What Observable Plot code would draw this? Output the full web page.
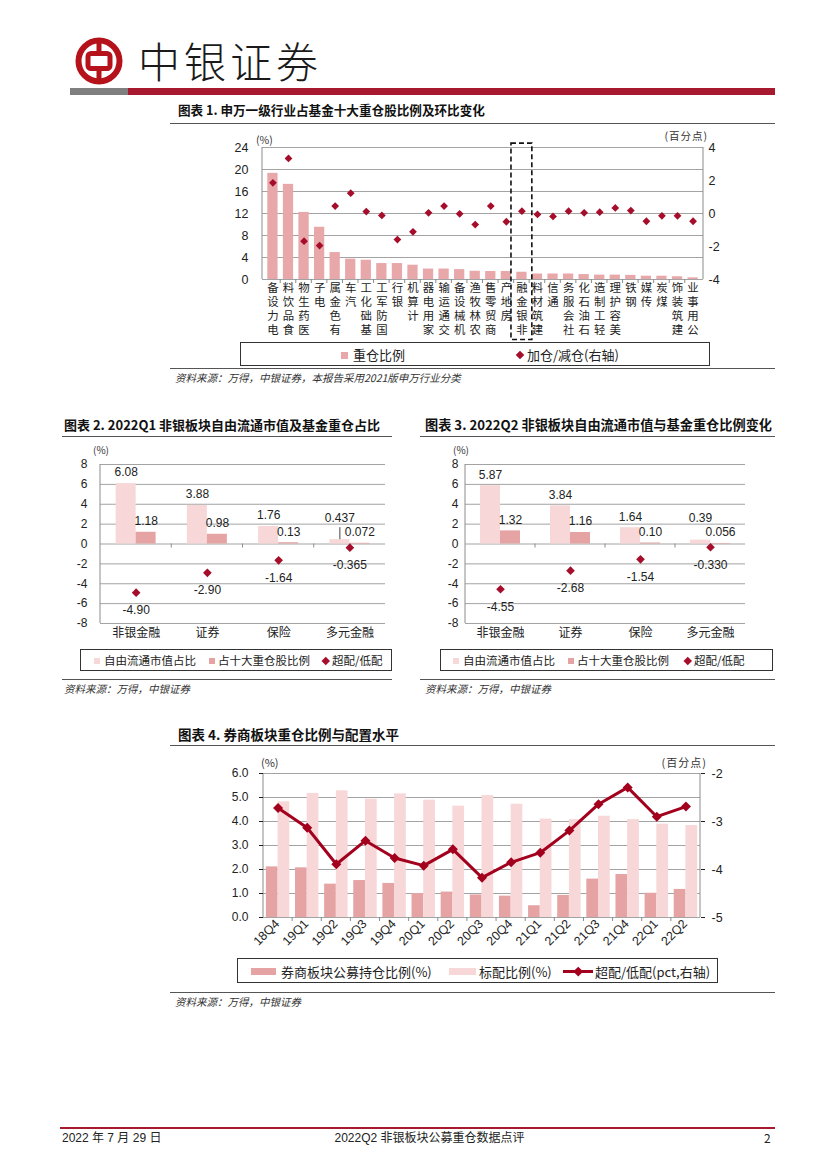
<!DOCTYPE html>
<html lang="zh"><head><meta charset="utf-8">
<script src="https://cdn.jsdelivr.net/npm/d3@7"></script>
<script src="https://cdn.jsdelivr.net/npm/@observablehq/plot@0.6"></script>
<style>
html,body{margin:0;padding:0;background:#fff;}
#page{position:relative;width:827px;height:1169px;overflow:hidden;background:#fff;font-family:"Noto Sans CJK SC","Noto Sans",sans-serif;color:#222;}
#page > *{position:absolute;}
.t{white-space:nowrap;line-height:1;}
.title{font-weight:700;font-size:13px;color:#111;}
.hr{height:0;border-top:1.6px solid #555;}
.src{font-style:italic;font-size:10.5px;color:#333;}
.unit{font-size:10.5px;color:#333;}
.legend{border:1px solid #333;box-sizing:border-box;background:#fff;}
.legend > *{position:absolute;white-space:nowrap;line-height:1;}
</style></head>
<body><div id="page"></div>
<script>
// ---------------- DATA ----------------
// Chart 1: 申万一级行业占基金十大重仓股比例 (%) 及环比变化 (百分点)
const industries = ["电力设备","食品饮料","医药生物","电子","有色金属","汽车","基础化工","国防军工","银行","计算机","家用电器","交通运输","机械设备","农林牧渔","商贸零售","房地产","非银金融","建筑材料","通信","社会服务","石油石化","轻工制造","美容护理","钢铁","传媒","煤炭","建筑装饰","公用事业"];
const industryWeight = [19.3,17.3,12.2,9.5,4.9,3.7,3.5,2.9,2.9,2.6,1.9,1.9,1.8,1.5,1.45,1.45,1.32,1.0,1.0,1.0,0.9,0.8,0.8,0.75,0.6,0.6,0.5,0.3];
const industryChange = [1.86,3.34,-1.68,-1.94,0.45,1.23,0.12,-0.12,-1.58,-1.11,0.04,0.45,-0.02,-0.67,0.45,-0.5,0.14,-0.06,-0.18,0.14,0.04,0.08,0.34,0.18,-0.47,-0.14,-0.14,-0.47];
const highlightIndustry = "非银金融";
const c1LeftTicks = [0,4,8,12,16,20,24];
const c1RightTicks = [-4,-2,0,2,4];

// Chart 2 / 3: 非银板块
const sectors = ["非银金融","证券","保险","多元金融"];
const q1FreeFloat = ["6.08","3.88","1.76","0.437"];
const q1FundWeight = ["1.18","0.98","0.13","0.072"];
const q1Over = ["-4.90","-2.90","-1.64","-0.365"];
const q2FreeFloat = ["5.87","3.84","1.64","0.39"];
const q2FundWeight = ["1.32","1.16","0.10","0.056"];
const q2Over = ["-4.55","-2.68","-1.54","-0.330"];
const sectorTicks = [-8,-6,-4,-2,0,2,4,6,8];

// Chart 4: 券商板块
const quarters = ["18Q4","19Q1","19Q2","19Q3","19Q4","20Q1","20Q2","20Q3","20Q4","21Q1","21Q2","21Q3","21Q4","22Q1","22Q2"];
const brokerHold = [2.11,2.07,1.39,1.54,1.42,1.00,1.06,0.94,0.89,0.49,0.92,1.60,1.79,1.01,1.17];
const brokerStandard = [4.82,5.17,5.28,4.93,5.15,4.89,4.64,5.08,4.72,4.10,4.08,4.22,4.08,3.89,3.83];
const brokerOver = [-2.72,-3.13,-3.89,-3.40,-3.76,-3.92,-3.58,-4.17,-3.85,-3.65,-3.19,-2.64,-2.29,-2.90,-2.69];
const c4LeftTicks = [0,1,2,3,4,5,6];
const c4RightTicks = [-5,-4,-3,-2];

// ---------------- STYLE ----------------
const C = {bar1:"#e8a8aa", dot:"#a50d2b", light:"#f7d7d7", med:"#e5a3a4", line:"#a3001e", grid:"#a3a3a3", axis:"#8c8c8c", red:"#a6192e"};
const NUM_FONT = "'Liberation Sans', Arial, 'Noto Sans CJK SC', sans-serif";
const CJK_FONT = "'Noto Sans CJK SC', sans-serif";
const page = document.getElementById("page");

function add(html, css, cls) {
  const d = document.createElement("div");
  if (cls) d.className = cls;
  d.innerHTML = html;
  Object.assign(d.style, css);
  page.appendChild(d);
  return d;
}
function hr(left, top, width, cls="hr", extra={}) { return add("", Object.assign({left:left+"px", top:top+"px", width:width+"px"}, extra), cls); }
function placeSvg(svg, left, top) { svg.style.position="absolute"; svg.style.left=left+"px"; svg.style.top=top+"px"; svg.style.overflow="visible"; page.appendChild(svg); }

function sideLines({left=true, right=false}={}) {
  return (index, scales, values, dims) => {
    const {width, height, marginTop, marginRight, marginBottom, marginLeft} = dims;
    const g = d3.create("svg:g").attr("stroke", C.axis).attr("stroke-width", 1).attr("fill", "none");
    if (left) g.append("line").attr("x1", marginLeft).attr("x2", marginLeft).attr("y1", marginTop).attr("y2", height - marginBottom);
    if (right) g.append("line").attr("x1", width - marginRight).attr("x2", width - marginRight).attr("y1", marginTop).attr("y2", height - marginBottom);
    return g.node();
  };
}
function boundaryTicks(yValue, len) {
  return (index, scales) => {
    const x = scales.x, y = scales.y;
    const step = x.step(), bw = x.bandwidth();
    const yy = y(yValue);
    const g = d3.create("svg:g").attr("stroke", C.axis).attr("stroke-width", 1);
    x.domain().slice(1).forEach(d => {
      const xx = x(d) - (step - bw) / 2;
      g.append("line").attr("x1", xx).attr("x2", xx).attr("y1", yy).attr("y2", yy + len);
    });
    return g.node();
  };
}
const baseStyle = {fontFamily: NUM_FONT, fontSize: "12px", color: "#222", background: "transparent", overflow: "visible"};

// ---------------- HEADER ----------------
add(`<svg width="48" height="48" viewBox="0 0 48 48">
  <circle cx="24" cy="24" r="20.5" fill="none" stroke="#b5121b" stroke-width="6"/>
  <rect x="13" y="16.5" width="22" height="15" rx="3" fill="none" stroke="#b5121b" stroke-width="5"/>
  <line x1="24" y1="3" x2="24" y2="16.5" stroke="#b5121b" stroke-width="5"/>
  <line x1="24" y1="31.5" x2="24" y2="45" stroke="#b5121b" stroke-width="5"/></svg>`, {left:"75px", top:"37px", width:"48px", height:"48px"});
add("中银证券", {left:"138px", top:"39px", fontSize:"42px", letterSpacing:"4px", fontWeight:"300", color:"#1a1a1a", lineHeight:"1"}, "t");
add("", {left:"70px", top:"88px", width:"58px", height:"7px", background:"#7f7f7f"});
add("", {left:"128px", top:"88px", width:"647px", height:"7px", background:C.red});

// ---------------- CHART 1 ----------------
add("图表 1. 申万一级行业占基金十大重仓股比例及环比变化", {left:"178px", top:"104px", fontSize:"12.6px"}, "t title");
hr(170, 123, 605);
add("(%)", {left:"256px", top:"135px"}, "t unit");
add("(百分点)", {right:(827-708)+"px", top:"131px", letterSpacing:"1px"}, "t unit");

const rows1 = industries.map((name, i) => ({name, weight: industryWeight[i], change: industryChange[i]}));
// vertical (stacked) category labels: one text per character, read bottom-to-top
const labelChars = industries.flatMap(name => [...name].reverse().map((ch, j) => ({name, ch, j})));
const r1 = d3.scaleLinear([-4, 4], [0, 24]);
const chart1 = Plot.plot({
  width: 560, height: 212, marginTop: 17, marginRight: 27, marginBottom: 63, marginLeft: 92,
  x: {type: "band", domain: industries, padding: 0.34, round: false, axis: null},
  y: {domain: [0, 24], axis: null},
  style: baseStyle,
  marks: [
    Plot.ruleY(c1LeftTicks, {stroke: C.grid, strokeWidth: 1}),
    sideLines({left: true, right: true}),
    boundaryTicks(0, 4),
    Plot.barY(rows1, {x: "name", y: "weight", fill: C.bar1}),
    Plot.dot(rows1, {x: "name", y: d => r1(d.change), symbol: "diamond2", r: 3.5, fill: C.dot}),
    Plot.barY([highlightIndustry], {x: d => d, y1: -11, y2: 24.7, fill: "none", stroke: "#111", strokeWidth: 1.6, strokeDasharray: "5,3", insetLeft: -5.3, insetRight: -5.3}),
    Plot.axisY(c1LeftTicks, {anchor: "left", label: null, tickSize: 0, tickPadding: 14, tickFormat: d => String(d), fontSize: 12.5}),
    Plot.axisY(c1RightTicks.map(r1), {anchor: "right", label: null, tickSize: 0, tickPadding: 5, tickFormat: d => String(Math.round(r1.invert(d))), fontSize: 12.5}),
    ...[0, 1, 2, 3].map(j => Plot.text(labelChars.filter(c => c.j === j), {x: "name", text: "ch", frameAnchor: "bottom", lineAnchor: "top", dy: 4.5 + j * 13.8, fontSize: 11.4, fontFamily: CJK_FONT, fill: "#222"}))
  ]
});
placeSvg(chart1, 170, 130);

add(`<div style="left:100px;top:8.5px;width:7px;height:7px;background:${C.bar1}"></div>
<div style="left:112px;top:5px;font-size:13px">重仓比例</div>
<div style="left:275.5px;top:9px;width:6px;height:6px;background:${C.dot};transform:rotate(45deg)"></div>
<div style="left:286px;top:5px;font-size:13px">加仓/减仓(右轴)</div>`, {left:"240px", top:"342px", width:"470px", height:"24px"}, "legend");
hr(170, 368, 605);
add("资料来源：万得，中银证券，本报告采用2021版申万行业分类", {left:"175px", top:"373px"}, "t src");

// ---------------- CHART 2 / 3 ----------------
function sectorChart({free, fund, over, width, marginLeft, tickPadding, leader}) {
  const rows = sectors.map((s, i) => ({s, free: +free[i], freeLabel: free[i], fund: +fund[i], fundLabel: fund[i], over: +over[i], overLabel: over[i]}));
  const marginRight = 15;
  const step = (width - marginLeft - marginRight) / sectors.length, half = step / 2, w = 20;
  return Plot.plot({
    width, height: 207, marginTop: 24, marginRight, marginBottom: 24, marginLeft,
    x: {type: "band", domain: sectors, padding: 0, round: false, axis: null},
    y: {domain: [-8, 8], axis: null},
    style: baseStyle,
    marks: [
      Plot.ruleY(sectorTicks, {stroke: C.grid, strokeWidth: 1}),
      sideLines({left: true}),
      boundaryTicks(0, 4),
      Plot.barY(rows, {x: "s", y: "free", fill: C.light, insetLeft: half - w, insetRight: half}),
      Plot.barY(rows, {x: "s", y: "fund", fill: C.med, insetLeft: half, insetRight: half - w}),
      Plot.dot(rows, {x: "s", y: "over", symbol: "diamond2", r: 3.9, fill: C.dot}),
      Plot.text(rows.filter(d => d.free >= 1), {x: "s", y: "free", text: "freeLabel", dx: -w / 2, dy: -11, fontSize: 12}),
      Plot.text(rows.filter(d => d.free < 1), {x: "s", y: "free", text: "freeLabel", dx: -w / 2, dy: -22, fontSize: 12}),
      leader ? Plot.ruleX(rows.filter(d => d.free < 1), {x: "s", y1: "free", y2: "free", insetTop: -12, dx: -w / 2, stroke: "#444"}) : null,
      Plot.text(rows, {x: "s", y: "fund", text: "fundLabel", dx: w / 2, dy: -11, fontSize: 12}),
      Plot.text(rows, {x: "s", y: "over", text: "overLabel", dy: 17.5, fontSize: 12}),
      Plot.axisY(sectorTicks, {anchor: "left", label: null, tickSize: 0, tickPadding, tickFormat: d => String(d), fontSize: 12}),
      Plot.text(sectors, {x: d => d, frameAnchor: "bottom", dy: 13, fontSize: 12, fontFamily: CJK_FONT, fill: "#222"})
    ].filter(Boolean)
  });
}

add("图表 2. 2022Q1 非银板块自由流通市值及基金重仓占比", {left:"64px", top:"418px"}, "t title");
hr(62, 436, 330);
add("(%)", {left:"93px", top:"445px", fontSize:"10px"}, "t unit");
placeSvg(sectorChart({free: q1FreeFloat, fund: q1FundWeight, over: q1Over, width: 360, marginLeft: 60, tickPadding: 13, leader: true}), 40, 440);

add("图表 3. 2022Q2 非银板块自由流通市值与基金重仓比例变化", {left:"425px", top:"418px", fontSize:"13.2px"}, "t title");
hr(420, 436, 355);
add("(%)", {left:"453px", top:"445px", fontSize:"10px"}, "t unit");
placeSvg(sectorChart({free: q2FreeFloat, fund: q2FundWeight, over: q2Over, width: 345, marginLeft: 50, tickPadding: 7, leader: false}), 415, 440);

function sectorLegend(left, width, pos) {
  return add(`<div style="left:${pos[0]}px;top:8px;width:6px;height:6px;background:${C.light}"></div>
<div style="left:${pos[0]+10}px;top:5px;font-size:11.5px">自由流通市值占比</div>
<div style="left:${pos[1]}px;top:8px;width:6px;height:6px;background:${C.med}"></div>
<div style="left:${pos[1]+9}px;top:5px;font-size:11.5px">占十大重仓股比例</div>
<div style="left:${pos[2]-3}px;top:8px;width:5.5px;height:5.5px;background:${C.dot};transform:rotate(45deg)"></div>
<div style="left:${pos[2]+6}px;top:5px;font-size:11.5px">超配/低配</div>`, {left:left+"px", top:"649px", width:width+"px", height:"22px"}, "legend");
}
sectorLegend(80, 312, [13, 128, 245]);
sectorLegend(440, 333, [12, 127, 247]);
hr(62, 679, 330);
hr(420, 679, 355);
add("资料来源：万得，中银证券", {left:"64px", top:"684px"}, "t src");
add("资料来源：万得，中银证券", {left:"425px", top:"684px"}, "t src");

// ---------------- CHART 4 ----------------
add("图表 4. 券商板块重仓比例与配置水平", {left:"178px", top:"728px", fontSize:"13.5px"}, "t title");
hr(170, 745, 605);
add("(%)", {left:"261px", top:"757px", fontSize:"11px"}, "t unit");
add("(百分点)", {right:(827-707)+"px", top:"757px", letterSpacing:"1px", fontSize:"11px"}, "t unit");

const rows4 = quarters.map((q, i) => ({q, hold: brokerHold[i], std: brokerStandard[i], over: brokerOver[i]}));
const r4 = d3.scaleLinear([-5, -2], [0, 6]);
const c4Step = (560 - 93 - 30) / quarters.length, c4Half = c4Step / 2, c4W = 11.7;
const chart4 = Plot.plot({
  width: 560, height: 205, marginTop: 23, marginRight: 30, marginBottom: 38, marginLeft: 93,
  x: {type: "band", domain: quarters, padding: 0, round: false, axis: null},
  y: {domain: [0, 6], axis: null},
  style: baseStyle,
  marks: [
    Plot.ruleY(c4LeftTicks, {stroke: C.grid, strokeWidth: 1}),
    sideLines({left: true, right: true}),
    boundaryTicks(0, 4),
    Plot.barY(rows4, {x: "q", y: "hold", fill: C.med, insetLeft: c4Half - c4W, insetRight: c4Half}),
    Plot.barY(rows4, {x: "q", y: "std", fill: C.light, insetLeft: c4Half, insetRight: c4Half - c4W}),
    Plot.line(rows4, {x: "q", y: d => r4(d.over), stroke: C.line, strokeWidth: 3}),
    Plot.dot(rows4, {x: "q", y: d => r4(d.over), symbol: "diamond2", r: 4.5, fill: C.line}),
    Plot.axisY(c4LeftTicks, {anchor: "left", label: null, tickSize: 4, tickPadding: 11, tickFormat: d3.format(".1f"), fontSize: 12}),
    Plot.axisY(c4RightTicks.map(r4), {anchor: "right", label: null, tickSize: 4, tickPadding: 7, tickFormat: d => String(Math.round(r4.invert(d))), fontSize: 12.5}),
    Plot.text(quarters, {x: d => d, frameAnchor: "bottom", text: d => d, rotate: -45, textAnchor: "end", dy: 7, dx: 2, fontSize: 12.5, fill: "#222"})
  ]
});
placeSvg(chart4, 170, 750);

add(`<div style="left:13px;top:9px;width:25px;height:7px;background:${C.med}"></div>
<div style="left:43px;top:6px;font-size:13px">券商板块公募持仓比例(%)</div>
<div style="left:211px;top:9px;width:27px;height:7px;background:${C.light}"></div>
<div style="left:241px;top:6px;font-size:13px">标配比例(%)</div>
<div style="left:325px;top:11px;width:30px;height:3px;background:${C.line}"></div>
<div style="left:336.5px;top:9px;width:6.5px;height:6.5px;background:${C.line};transform:rotate(45deg)"></div>
<div style="left:357px;top:6px;font-size:13px">超配/低配(pct,右轴)</div>`, {left:"237px", top:"958px", width:"481px", height:"25px"}, "legend");
hr(170, 992, 605);
add("资料来源：万得，中银证券", {left:"175px", top:"997px"}, "t src");

// ---------------- FOOTER ----------------
add("", {left:"60px", top:"1127px", width:"715px", height:"1.5px", background:C.red});
add("2022 年 7 月 29 日", {left:"62px", top:"1132px", fontSize:"12px", fontFamily:"'Liberation Sans Narrow','Liberation Sans','Noto Sans CJK SC',sans-serif"}, "t");
add("2022Q2 非银板块公募重仓数据点评", {left:"327px", width:"205px", textAlign:"center", top:"1132px", fontSize:"12px", fontFamily:"'Liberation Sans Narrow','Liberation Sans','Noto Sans CJK SC',sans-serif"}, "t");
add("2", {left:"764px", top:"1132px", fontSize:"12px"}, "t");
</script>
</body></html>
